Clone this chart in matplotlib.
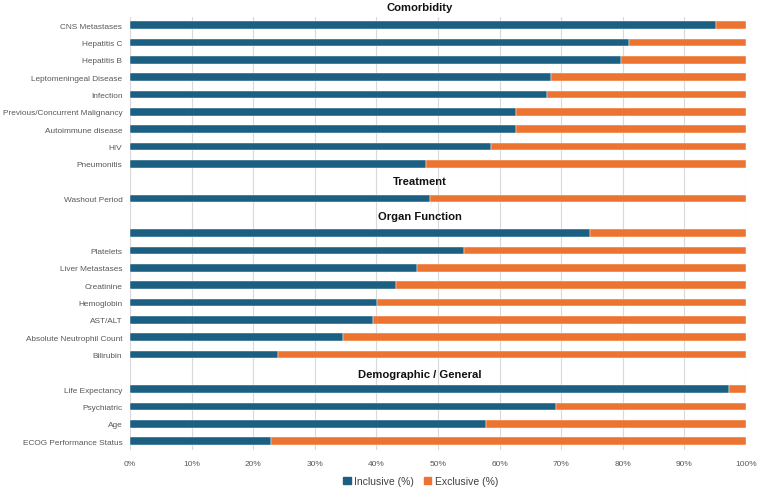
import numpy as np
import matplotlib.pyplot as plt
from matplotlib.ticker import PercentFormatter

# rows from top to bottom, None = empty row used for a section header
labels = ["CNS Metastases", "Hepatitis C", "Hepatitis B", "Leptomeningeal Disease",
          "Infection", "Previous/Concurrent Malignancy", "Autoimmune disease", "HIV",
          "Pneumonitis", None, "Washout Period", None, "", "Platelets",
          "Liver Metastases", "Creatinine", "Hemoglobin", "AST/ALT",
          "Absolute Neutrophil Count", "Bilirubin", None, "Life Expectancy",
          "Psychiatric", "Age", "ECOG Performance Status"]
inclusive = [95.1, 81.0, 79.7, 68.3, 67.7, 62.7, 62.7, 58.6, 48.1, None, 48.7, None,
             74.7, 54.2, 46.6, 43.2, 40.1, 39.4, 34.6, 24.0, None, 97.2, 69.2, 57.8, 22.9]

headers = {-1.05: "Comorbidity", 9.0: "Treatment", 11.0: "Organ Function",
           20.15: "Demographic / General"}

blue = "#1B5F82"
orange = "#ED7331"

plt.rcParams['font.family'] = ['Liberation Sans', 'DejaVu Sans']

fig = plt.figure(figsize=(7.58, 4.89), dpi=100)
ax = fig.add_axes([0.1715, 0.078, 0.8125, 0.886])

ypos = np.arange(len(labels))
for y, lab, v in zip(ypos, labels, inclusive):
    if v is None:
        continue
    ax.barh(y, v, height=0.45, color=blue, edgecolor="white", linewidth=0.3, zorder=3)
    ax.barh(y, 100 - v, left=v, height=0.45, color=orange, edgecolor="white", linewidth=0.3, zorder=3)

for y, txt in headers.items():
    ax.text(47, y, txt, ha="center", va="center", fontsize=8.1, fontweight="bold",
            color="#111111", clip_on=False)

ax.set_yticks(ypos)
ax.set_yticklabels([l if l else "" for l in labels], fontsize=5.95, color="#595959")
ax.set_ylim(len(labels) - 0.5, -0.5)
ax.set_xlim(0, 100)
ax.set_xticks(np.arange(0, 101, 10))
ax.xaxis.set_major_formatter(PercentFormatter(decimals=0))
ax.tick_params(axis="x", labelsize=6.0, colors="#595959", length=0, pad=7)
ax.tick_params(axis="y", length=0, pad=5.5)
ax.grid(axis="x", color="#D9D9D9", linewidth=0.8, zorder=0)
for s in ax.spines.values():
    s.set_visible(False)

h1 = plt.Rectangle((0, 0), 1, 1, color=blue)
h2 = plt.Rectangle((0, 0), 1, 1, color=orange)
fig.legend([h1, h2], ["Inclusive (%)", "Exclusive (%)"], loc="center",
           bbox_to_anchor=(0.555, 0.0145), ncol=2, frameon=False, fontsize=7.5,
           handlelength=0.7, handleheight=0.7, handletextpad=0.3, columnspacing=1.0,
           labelcolor="#404040")

fig.savefig("out.png", dpi=100)
